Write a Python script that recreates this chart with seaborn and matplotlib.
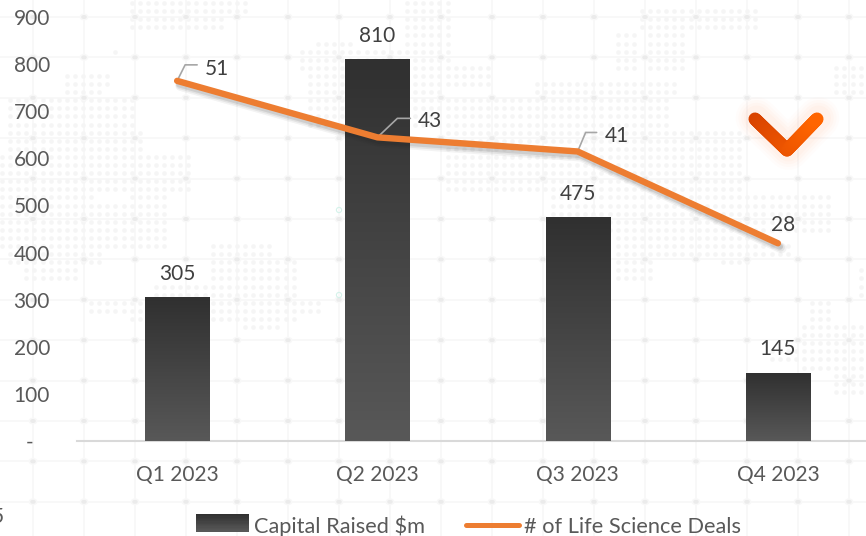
import numpy as np
import pandas as pd
import matplotlib
matplotlib.use("Agg")
import matplotlib.pyplot as plt
import seaborn as sns
from matplotlib.collections import LineCollection
from matplotlib.colors import LinearSegmentedColormap, to_rgb
from matplotlib.legend_handler import HandlerBase
from matplotlib.lines import Line2D
from matplotlib.patches import Ellipse, Rectangle
import matplotlib.patheffects as pe

quarters = ["Q1 2023", "Q2 2023", "Q3 2023", "Q4 2023"]
capital_raised = [305, 810, 475, 145]
deals = [51, 43, 41, 28]
ytick_values = [0, 100, 200, 300, 400, 500, 600, 700, 800, 900]
ytick_labels = ["-   ", "100", "200", "300", "400", "500", "600", "700", "800", "900"]

# rough outline of the dotted world map behind the chart, x0 x1 y0 y1 in pixels
map_blobs = [
    (400, 455, 0, 60), (400, 490, 60, 90), (130, 250, 0, 15), (125, 225, 15, 35),
    (110, 120, 50, 56), (60, 115, 70, 85), (60, 100, 85, 95), (10, 135, 100, 125),
    (10, 145, 125, 150), (0, 195, 150, 175), (0, 190, 175, 190), (0, 95, 190, 235),
    (130, 170, 190, 200), (0, 165, 205, 250), (10, 100, 250, 265), (20, 80, 265, 280),
    (205, 275, 240, 262), (205, 295, 262, 285), (155, 300, 285, 296), (90, 325, 296, 318),
    (125, 300, 318, 325), (245, 285, 325, 332), (310, 355, 40, 130), (300, 430, 45, 70),
    (305, 440, 70, 130), (530, 675, 80, 95), (400, 670, 95, 130), (440, 740, 130, 190),
    (545, 835, 190, 230), (613, 750, 230, 258), (720, 750, 255, 265), (610, 650, 260, 285),
    (640, 760, 5, 28), (610, 640, 30, 75), (650, 690, 30, 70), (800, 866, 325, 375),
    (765, 800, 345, 365), (830, 866, 365, 395), (805, 830, 297, 325), (855, 866, 270, 300),
    (830, 866, 60, 100), (730, 790, 240, 262),
]

W, H = 866, 536
sns.set_theme(style="white")
plt.rcParams["font.family"] = ["Lato", "DejaVu Sans"]

fig = plt.figure(figsize=(W / 100, H / 100), dpi=100, facecolor="white")

# background layer in pixel coordinates
bg = fig.add_axes([0, 0, 1, 1], zorder=0)
bg.set_xlim(0, W)
bg.set_ylim(H, 0)
bg.axis("off")
grid_x = np.arange(33, W + 1, 51)
grid_y = 17 + 40.4 * np.arange(0, 14)
gx, gy = np.meshgrid(np.arange(2, W, 8.1), np.arange(3, H, 8.1))
keep = np.zeros(gx.shape, dtype=bool)
for x0, x1, y0, y1 in map_blobs:
    keep |= (gx >= x0) & (gx <= x1) & (gy >= y0) & (gy <= y1)
bg.scatter(gx[keep], gy[keep], s=11, color="#f5f5f5", linewidths=0, zorder=1)
for x in grid_x:
    bg.axvline(x, color="#f6f6f6", lw=1.1, zorder=2)
for y in grid_y:
    bg.axhline(y, color="#f6f6f6", lw=1.1, zorder=2)
for x in grid_x:
    for y in grid_y:
        bg.add_patch(Ellipse((x, y), 9, 7, color="#f8f8f8", lw=0, zorder=3))
        bg.add_patch(Ellipse((x, y), 5.5, 4, color="#ebebeb", lw=0, zorder=4))
bg.scatter([339, 339], [210, 295], s=14, facecolors="none", edgecolors="#d5f2ea", linewidths=0.8, zorder=5)

# main axes
ax = fig.add_axes([77 / W, 1 - 441 / H, (W - 77) / W, 441 / H], zorder=2)
ax.patch.set_visible(False)
df = pd.DataFrame({"quarter": quarters, "capital": capital_raised})
sns.barplot(data=df, x="quarter", y="capital", color="#404040", width=0.32, saturation=1, ax=ax)

bar_cmap = LinearSegmentedColormap.from_list("bar", ["#303030", "#585858"])
grad = np.linspace(0, 1, 128).reshape(-1, 1)
for bar in ax.patches:
    x0, w, h = bar.get_x(), bar.get_width(), bar.get_height()
    im = ax.imshow(grad, cmap=bar_cmap, aspect="auto", extent=(x0, x0 + w, 0, h), zorder=3)
    im.set_clip_path(bar)
    bar.set_facecolor("none")
    ax.text(x0 + w / 2, h + 28, f"{h:.0f}", ha="center", va="bottom", fontsize=15, color="#404040")

ax.set_xlim(-0.5, 3.44)
ax.set_ylim(0, 936)
ax.set_xlabel("")
ax.set_ylabel("")
ax.set_yticks(ytick_values, ytick_labels)
ax.tick_params(axis="y", length=0, pad=19.5, labelsize=15, labelcolor="#595959")
ax.tick_params(axis="x", length=0, pad=17, labelsize=15, labelcolor="#595959")
sns.despine(ax=ax, left=True, right=True, top=True)
ax.spines["bottom"].set_color("#d9d9d9")
ax.spines["bottom"].set_linewidth(1.5)

# deals on a hidden secondary axis
ax2 = ax.twinx()
ax2.patch.set_visible(False)
sns.lineplot(x=quarters, y=deals, color="#ed7d31", lw=4.6, sort=False, solid_capstyle="round",
             solid_joinstyle="round", errorbar=None, ax=ax2, zorder=5)
ax2.set_ylim(0, 62.45)
ax2.set_yticks([])
ax2.set_ylabel("")
sns.despine(ax=ax2, left=True, right=True, top=True, bottom=True)
ax2.lines[0].set_path_effects([
    pe.SimpleLineShadow(offset=(2.5, -3.5), shadow_color="k", alpha=0.05, linewidth=7.5),
    pe.SimpleLineShadow(offset=(2, -3), shadow_color="k", alpha=0.07, linewidth=6),
    pe.SimpleLineShadow(offset=(1.5, -2.5), shadow_color="k", alpha=0.10, linewidth=4.5),
    pe.Normal(),
])

# label offsets and leader elbows, in pixels from the line point
label_offsets = [(40, 12), (53, 16), (39, 15), (5, 18)]
elbows = [(8, 16, 20), (20, 19, 33), (8, 19, 19), None]
for i, v in enumerate(deals):
    dx, dy = label_offsets[i]
    ax2.annotate(str(v), xy=(i, v), xytext=(dx, dy), textcoords="offset pixels", ha="center",
                 va="center", fontsize=15, color="#404040", zorder=6)
    if elbows[i]:
        ex, ey, end = elbows[i]
        px, py = ax2.transData.transform((i, v))
        ax2.add_line(Line2D([px, px + ex, px + end], [py, py + ey, py + ey], transform=None,
                            color="#a6a6a6", lw=1.2, zorder=4))

# chevron badge on the top right
cx = np.concatenate([np.linspace(755, 787, 40), np.linspace(787, 817, 40)])
cy = np.concatenate([np.linspace(119, 150, 40), np.linspace(150, 119, 40)])
for lw, a in [(30, 0.02), (26, 0.025), (22, 0.03), (18, 0.035)]:
    bg.add_line(Line2D(cx + 1.5, cy - 1, color="#ff8a50", lw=lw, alpha=a, solid_capstyle="round", zorder=7))
pts = np.column_stack([cx, cy]).reshape(-1, 1, 2)
segs = np.concatenate([pts[:-1], pts[1:]], axis=1)
left_c, right_c = np.array(to_rgb("#d84300")), np.array(to_rgb("#ff6500"))
cols = [left_c + (right_c - left_c) * t for t in np.linspace(0, 1, len(segs))]
fg = fig.add_axes([0, 0, 1, 1], zorder=4)
fg.set_xlim(0, W)
fg.set_ylim(H, 0)
fg.axis("off")
fg.add_collection(LineCollection(segs, colors=cols, linewidths=9.4, capstyle="round"))

# clipped digit left of the frame
fg.text(3.5, 517, "5", ha="right", va="center", fontsize=15, color="#595959", clip_on=False)


class GradientHandler(HandlerBase):
    def create_artists(self, legend, orig, xd, yd, width, height, fontsize, trans):
        steps = 14
        out = []
        for k in range(steps):
            out.append(Rectangle((xd, yd + height * (steps - 1 - k) / steps), width, height / steps + 0.2,
                                 facecolor=bar_cmap(k / (steps - 1)), lw=0, transform=trans))
        return out


bar_handle = Rectangle((0, 0), 1, 1)
line_handle = Line2D([], [], color="#ed7d31", lw=3.6, solid_capstyle="round")
leg = fig.legend([bar_handle, line_handle], ["Capital Raised $m", "# of Life Science Deals"],
                 handler_map={Rectangle: GradientHandler()}, loc="center left",
                 bbox_to_anchor=(196 / W, 1 - 526 / H), ncol=2, frameon=False, fontsize=15.7,
                 handlelength=2.43, handleheight=0.85, handletextpad=0.23, columnspacing=1.9,
                 labelcolor="#595959", borderpad=0, borderaxespad=0)
leg.set_zorder(5)

fig.savefig("out.png", dpi=100)
